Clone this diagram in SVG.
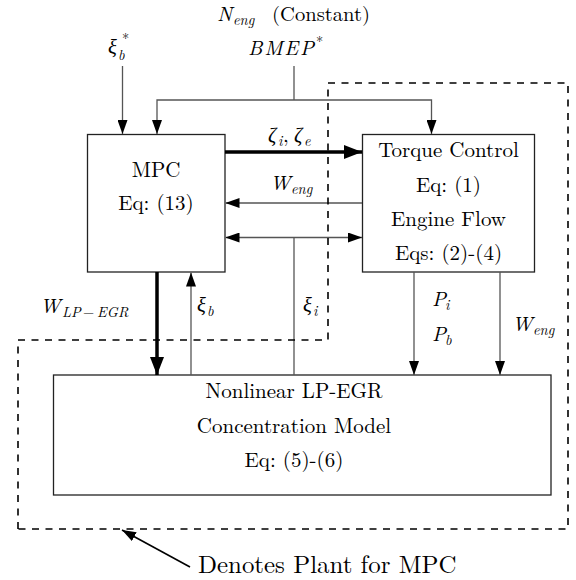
<svg xmlns="http://www.w3.org/2000/svg" width="576" height="580" viewBox="0 0 576 580" font-family="Latin Modern Roman, Liberation Serif, serif">
  <defs>
    <marker id="ah" markerUnits="userSpaceOnUse" markerWidth="14" markerHeight="10" refX="14" refY="5" orient="auto-start-reverse">
      <path d="M0,0 L14,5 L0,10 z" fill="#000"/>
    </marker>
    <marker id="ahb" markerUnits="userSpaceOnUse" markerWidth="18" markerHeight="14" refX="18" refY="7" orient="auto">
      <path d="M0,0 L18,7 L0,14 z" fill="#000"/>
    </marker>
    <style>
      .box{fill:#fff;stroke:#222;stroke-width:1.3}
      .ln{fill:none;stroke:#555;stroke-width:1.3}
      .thick{fill:none;stroke:#000;stroke-width:3.5}
      .dash{fill:none;stroke:#000;stroke-width:1.6;stroke-dasharray:7 6.5}
      .ptr{fill:none;stroke:#000;stroke-width:1.6}
      text{fill:#000}
      .t{font-size:21px;text-anchor:middle}
      .m{font-size:20.6px;font-style:italic}
      .s{font-size:14.4px;font-style:italic}
      .u{font-size:20.6px}
      .sup{font-size:14.4px}
      .big{font-size:24.9px}
    </style>
  </defs>

  <!-- blocks -->
  <g id="mpc">
    <rect class="box" x="87.5" y="134.5" width="137.5" height="137.5"/>
    <text class="t" x="156" y="177">MPC</text>
    <text class="t" x="156" y="210">Eq: (13)</text>
  </g>

  <g id="engine">
    <rect class="box" x="362.5" y="134.5" width="172" height="137.5"/>
    <text class="t" x="448.5" y="157">Torque Control</text>
    <text class="t" x="448.5" y="191.5">Eq: (1)</text>
    <text class="t" x="448.5" y="226">Engine Flow</text>
    <text class="t" x="448.5" y="260">Eqs: (2)-(4)</text>
  </g>

  <g id="lpegr">
    <rect class="box" x="53.5" y="375" width="497.5" height="120"/>
    <text class="t" x="294" y="398">Nonlinear LP-EGR</text>
    <text class="t" x="294" y="433">Concentration Model</text>
    <text class="t" x="294" y="467">Eq: (5)-(6)</text>
  </g>

  <!-- signal lines -->
  <g id="connectors">
    <path class="ln" d="M122.5,66 V134" marker-end="url(#ah)"/>
    <path class="ln" d="M294,66 V100"/>
    <path class="ln" d="M294,100 H157 V134" marker-end="url(#ah)"/>
    <path class="ln" d="M294,100 H431.5 V134" marker-end="url(#ah)"/>
    <path class="thick" d="M225,152 H362" marker-end="url(#ahb)"/>
    <path class="ln" d="M362,203 H225.5" marker-end="url(#ah)"/>
    <path class="ln" d="M225.5,237.5 H362" marker-start="url(#ah)" marker-end="url(#ah)"/>
    <path class="ln" d="M294,237.5 V375"/>
    <path class="thick" d="M157,272 V375" marker-end="url(#ahb)"/>
    <path class="ln" d="M191,375 V272.5" marker-end="url(#ah)"/>
    <path class="ln" d="M414,272 V375" marker-end="url(#ah)"/>
    <path class="ln" d="M500,272 V375" marker-end="url(#ah)"/>
    <path class="ptr" d="M190,567 L122,530" marker-end="url(#ah)"/>
  </g>

  <!-- plant boundary -->
  <path id="plant" class="dash" d="M18,529 V340 H328 V83 H568 V529 Z"/>

  <!-- signal labels; Greek letters take Liberation Serif italic -->
  <g id="labels">
    <text class="m" x="217" y="21">N</text>
    <text class="s" x="233" y="25">eng</text>
    <text class="u" x="272" y="21">(Constant)</text>

    <text class="m" x="248" y="55" textLength="66" lengthAdjust="spacing">BMEP</text>
    <text class="sup" x="316" y="47">*</text>

    <text class="m" x="108" y="54" font-family="Liberation Serif, serif">ξ</text>
    <text class="s" x="118" y="60">b</text>
    <text class="sup" x="122" y="44">*</text>

    <text class="m" x="268" y="142" font-family="Liberation Serif, serif">ζ</text>
    <text class="s" x="278" y="146">i</text>
    <text class="u" x="283" y="142">,</text>
    <text class="m" x="294" y="142" font-family="Liberation Serif, serif">ζ</text>
    <text class="s" x="304" y="146">e</text>

    <text class="m" x="270" y="190">W</text>
    <text class="s" x="291" y="194">eng</text>

    <text class="m" x="40" y="313">W</text>
    <text class="s" x="62" y="317">LP</text>
    <text class="sup" x="83" y="317">−</text>
    <text class="s" x="97" y="317">EGR</text>

    <text class="m" x="197" y="312" font-family="Liberation Serif, serif">ξ</text>
    <text class="s" x="207" y="316">b</text>

    <text class="m" x="303" y="312" font-family="Liberation Serif, serif">ξ</text>
    <text class="s" x="313" y="316">i</text>

    <text class="m" x="432" y="306">P</text>
    <text class="s" x="445" y="310">i</text>
    <text class="m" x="432" y="341">P</text>
    <text class="s" x="445" y="345">b</text>

    <text class="m" x="512" y="331">W</text>
    <text class="s" x="533" y="335">eng</text>

    <text class="big" x="198" y="573">Denotes Plant for MPC</text>
  </g>
</svg>
